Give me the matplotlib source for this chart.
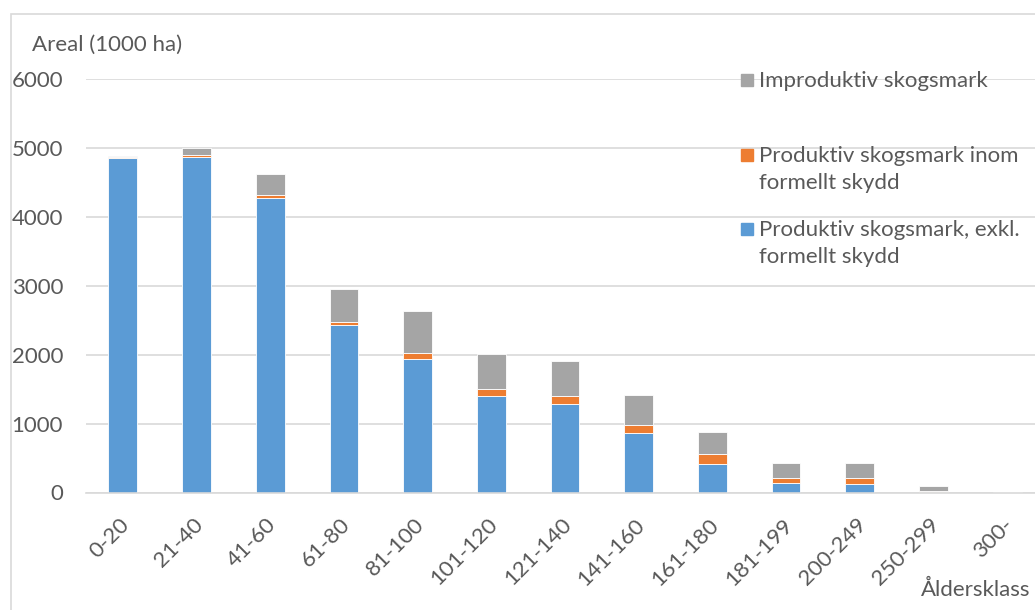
import matplotlib.pyplot as plt
from matplotlib.patches import Rectangle
from matplotlib.transforms import ScaledTranslation
import numpy as np

plt.rcParams['font.family'] = ['Lato', 'DejaVu Sans']

age_classes = ['0-20', '21-40', '41-60', '61-80', '81-100', '101-120', '121-140',
               '141-160', '161-180', '181-199', '200-249', '250-299', '300-']
prod_excl = [4847, 4872, 4280, 2424, 1940, 1407, 1291, 860, 410, 142, 128, 10, 2]
prod_skydd = [25, 29, 40, 44, 83, 93, 116, 121, 145, 73, 87, 10, 1]
improd = [15, 96, 295, 480, 615, 513, 500, 436, 320, 209, 214, 70, 10]

labels = ['Produktiv skogsmark, exkl.\nformellt skydd',
          'Produktiv skogsmark inom\nformellt skydd',
          'Improduktiv skogsmark']
colors = ['#5B9BD5', '#ED7D31', '#A5A5A5']
text_col = '#595959'
grid_col = '#D9D9D9'
fs = 16

W, H = 1035, 610
fig = plt.figure(figsize=(W / 100, H / 100), dpi=100)
ax = fig.add_axes([86 / W, 1 - 492.5 / H, 958 / W, (492.5 - 79) / H])

x = np.arange(len(age_classes))
bottom = np.zeros(len(x))
for vals, col in zip([prod_excl, prod_skydd, improd], colors):
    ax.bar(x, vals, width=0.39, bottom=bottom, color=col,
           edgecolor='white', linewidth=0.6, zorder=3)
    bottom += np.array(vals)

ax.set_xlim(-0.5, len(x) - 0.5)
ax.set_ylim(0, 6000)
ax.set_yticks(range(0, 6001, 1000))
ax.yaxis.grid(True, color=grid_col, linewidth=1.2, zorder=0)
for s in ['top', 'right', 'left']:
    ax.spines[s].set_visible(False)
ax.spines['bottom'].set_color(grid_col)
ax.spines['bottom'].set_linewidth(1.2)
ax.spines['bottom'].set_zorder(4)
ax.tick_params(axis='y', length=0, pad=16.5, labelsize=fs, labelcolor=text_col)
ax.tick_params(axis='x', length=0, pad=16, labelsize=fs, labelcolor=text_col)
ax.set_xticks(x)
ax.set_xticklabels(age_classes, rotation=45, ha='right', va='top',
                   rotation_mode='anchor')
shift = ScaledTranslation(-4 / 100, 0, fig.dpi_scale_trans)
for t in ax.get_xticklabels():
    t.set_transform(t.get_transform() + shift)

fig.text(32 / W, 1 - 45 / H, 'Areal (1000 ha)', fontsize=fs, color=text_col,
         ha='left', va='center')
fig.text(1030 / W, 1 - 590 / H, 'Åldersklass', fontsize=fs, color=text_col,
         ha='right', va='center')

# legend drawn by hand, Excel spaces the entries unevenly
leg_y = [229, 155, 80]
for lab, col, yy in zip(labels, colors, leg_y):
    fig.patches.append(Rectangle((741 / W, 1 - (yy + 6) / H), 12 / W, 12 / H,
                                 transform=fig.transFigure, color=col))
    fig.text(759 / W, 1 - (yy - 9) / H, lab, fontsize=fs, color=text_col,
             ha='left', va='top', linespacing=1.45)

# chart frame
fig.patches.append(Rectangle((11 / W, -0.1), 1.2, 1.1 - 14 / H,
                             transform=fig.transFigure, fill=False,
                             edgecolor=grid_col, linewidth=1.2))

fig.savefig('out.png', dpi=100)
